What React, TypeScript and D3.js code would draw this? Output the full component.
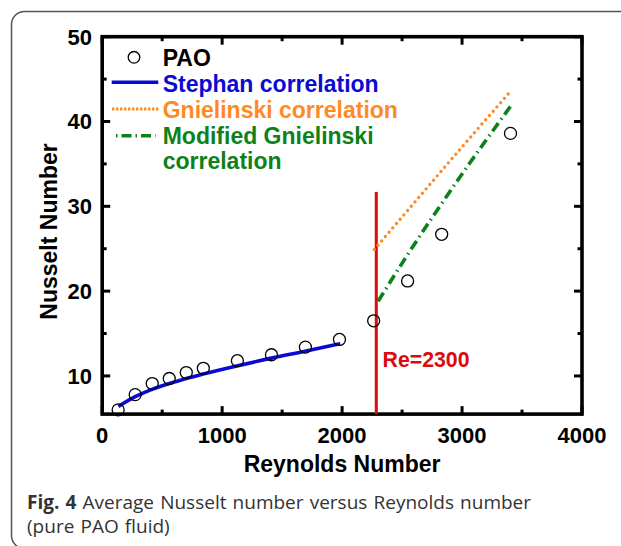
import React from "react";
import * as d3 from "d3";

// ---- data ----
const paoRe = [133, 275, 417, 559, 701, 843, 1127, 1411, 1694, 1978, 2263, 2546, 2830, 3404];
const paoNu = [6.0, 7.8, 9.1, 9.7, 10.4, 10.9, 11.8, 12.5, 13.4, 14.3, 16.5, 21.2, 26.7, 38.6];

const stephanRe = [135, 275, 420, 560, 700, 850, 1130, 1410, 1700, 1985];
const stephanNu = [6.4, 7.55, 8.45, 9.1, 9.7, 10.25, 11.2, 12.1, 12.95, 13.8];

const gnielRe = [2268, 2600, 3000, 3388];
const gnielNu = [24.9, 30.4, 37.0, 43.3];

const modGnielRe = [2300, 2560, 2980, 3410];
const modGnielNu = [18.8, 24.6, 33.4, 41.9];

const transitionRe = 2285;
const transitionTop = 31.7;
const transitionLabel = "Re=2300";

const xMajorTicks = [0, 1000, 2000, 3000, 4000];
const xMinorTicks = [500, 1500, 2500, 3500];
const yMajorTicks = [10, 20, 30, 40, 50];
const yMinorTicks = [15, 25, 35, 45];

const legendLabels = ["PAO", "Stephan correlation", "Gnielinski correlation", "Modified Gnielinski", "correlation"];

const xTitle = "Reynolds Number";
const yTitle = "Nusselt Number";
const captionBold = "Fig. 4";
const captionLine1 = " Average Nusselt number versus Reynolds number";
const captionLine2 = "(pure PAO fluid)";

const BLUE = "#0a0ad2";
const ORANGE = "#ff8a24";
const GREEN = "#0c8218";
const RED = "#dc0a0a";

export default function App() {
  const W = 621, H = 546;
  const left = 102.2, right = 582, top = 36.7, bottom = 414.1;
  const x = d3.scaleLinear().domain([0, 4000]).range([left, right]);
  const y = d3.scaleLinear().domain([5.5, 50]).range([bottom, top]);

  const stephanLine = d3.line<number>().x((d, i) => x(stephanRe[i])).y((d) => y(d)).curve(d3.curveMonotoneX);
  const gnielLine = d3.line<number>().x((d, i) => x(gnielRe[i])).y((d) => y(d)).curve(d3.curveMonotoneX);
  const modLine = d3.line<number>().x((d, i) => x(modGnielRe[i])).y((d) => y(d)).curve(d3.curveMonotoneX);

  const boldFont = "'Liberation Sans', Arial, Helvetica, sans-serif";
  const majorLen = 8, minorLen = 4.5;

  return (
    <svg width={W} height={H} style={{ position: "absolute", left: 0, top: 0 }}>
      <rect x={0} y={0} width={W} height={H} fill="#fff" />
      {/* outer frame */}
      <rect x={11.5} y={11.5} width={660} height={537} rx={13} ry={13} fill="none" stroke="#555" strokeWidth={1.5} />

      {/* ticks */}
      <g stroke="#000" strokeWidth={3}>
        {xMajorTicks.map((t) => (
          <g key={"xm" + t}>
            <line x1={x(t)} x2={x(t)} y1={bottom} y2={bottom - majorLen} />
            <line x1={x(t)} x2={x(t)} y1={top} y2={top + majorLen} />
          </g>
        ))}
        {xMinorTicks.map((t) => (
          <g key={"xn" + t}>
            <line x1={x(t)} x2={x(t)} y1={bottom} y2={bottom - minorLen} />
            <line x1={x(t)} x2={x(t)} y1={top} y2={top + minorLen} />
          </g>
        ))}
        {yMajorTicks.map((t) => (
          <g key={"ym" + t}>
            <line x1={left} x2={left + majorLen} y1={y(t)} y2={y(t)} />
            <line x1={right} x2={right - majorLen} y1={y(t)} y2={y(t)} />
          </g>
        ))}
        {yMinorTicks.map((t) => (
          <g key={"yn" + t}>
            <line x1={left} x2={left + minorLen} y1={y(t)} y2={y(t)} />
            <line x1={right} x2={right - minorLen} y1={y(t)} y2={y(t)} />
          </g>
        ))}
      </g>
      <rect x={left} y={top} width={right - left} height={bottom - top} fill="none" stroke="#000" strokeWidth={3.6} />

      {/* tick labels */}
      <g fontFamily={boldFont} fontWeight="bold" fontSize={22} fill="#000">
        {xMajorTicks.map((t) => (
          <text key={"xl" + t} x={x(t)} y={443} textAnchor="middle">{t}</text>
        ))}
        {yMajorTicks.map((t) => (
          <text key={"yl" + t} x={92} y={y(t) + 7.8} textAnchor="end">{t}</text>
        ))}
      </g>

      {/* axis titles */}
      <text x={(left + right) / 2} y={471.5} textAnchor="middle" fontFamily={boldFont} fontWeight="bold" fontSize={23}>{xTitle}</text>
      <text transform={`translate(56.5, 231.5) rotate(-90)`} textAnchor="middle" fontFamily={boldFont} fontWeight="bold" fontSize={23}>{yTitle}</text>

      {/* transition line */}
      <line x1={x(transitionRe)} x2={x(transitionRe)} y1={y(transitionTop)} y2={bottom} stroke={RED} strokeWidth={3} />
      <text x={382.5} y={366.7} fontFamily={boldFont} fontWeight="bold" fontSize={21.3} fill={RED}>{transitionLabel}</text>

      {/* correlations */}
      <path d={stephanLine(stephanNu) || ""} fill="none" stroke={BLUE} strokeWidth={3.6} />
      <path d={gnielLine(gnielNu) || ""} fill="none" stroke={ORANGE} strokeWidth={3.4} strokeDasharray="0 5.7" strokeLinecap="round" />
      <path d={modLine(modGnielNu) || ""} fill="none" stroke={GREEN} strokeWidth={3.6} strokeDasharray="10 4.5 1.5 4.5" />

      {/* data */}
      {paoNu.map((v, i) => (
        <circle key={"p" + i} cx={x(paoRe[i])} cy={y(v)} r={6} fill="none" stroke="#000" strokeWidth={1.3} />
      ))}

      {/* legend */}
      <g fontFamily={boldFont} fontWeight="bold" fontSize={23}>
        <circle cx={134} cy={57.3} r={5.8} fill="none" stroke="#000" strokeWidth={1.3} />
        <text x={162.7} y={66} fill="#000">{legendLabels[0]}</text>
        <line x1={111.7} x2={158.3} y1={82.3} y2={82.3} stroke={BLUE} strokeWidth={3.6} />
        <text x={162.7} y={91.7} fill={BLUE}>{legendLabels[1]}</text>
        <line x1={112} x2={158.3} y1={109} y2={109} stroke={ORANGE} strokeWidth={3} strokeDasharray="2.4 1.6" />
        <text x={162.7} y={118.3} fill={ORANGE}>{legendLabels[2]}</text>
        <line x1={116} x2={155.5} y1={135.7} y2={135.7} stroke={GREEN} strokeWidth={3.6} strokeDasharray="1.5 4 10 4" />
        <text x={162.7} y={144} fill={GREEN}>{legendLabels[3]}</text>
        <text x={162.7} y={169} fill={GREEN}>{legendLabels[4]}</text>
      </g>

      {/* caption */}
      <text x={27} y={508.5} fontFamily="'Open Sans', sans-serif" fontSize={19} fill="#333" wordSpacing={1.2}>
        <tspan fontWeight="bold">{captionBold}</tspan>
        <tspan>{captionLine1}</tspan>
      </text>
      <text x={27} y={533} fontFamily="'Open Sans', sans-serif" fontSize={19} fill="#333" wordSpacing={1.2}>{captionLine2}</text>
    </svg>
  );
}
